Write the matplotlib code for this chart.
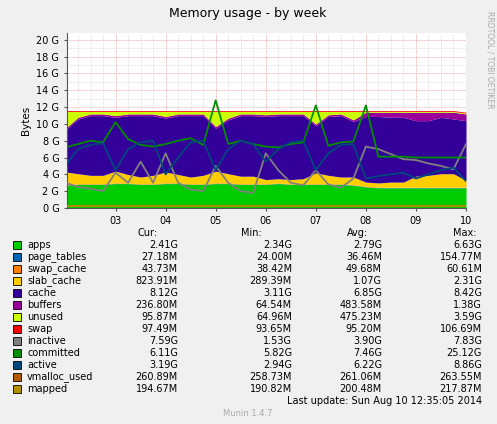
import matplotlib
matplotlib.use("Agg")
import matplotlib.pyplot as plt
import numpy as np

# time in days (Aug 02 .. Aug 10), quarter-day samples, values in GB
days = [2 + 0.25 * i for i in range(33)]
apps = [2.7, 2.8, 2.8, 2.8, 2.9, 2.9, 2.8, 2.8, 2.9, 2.9, 2.8, 2.8, 2.9, 2.9, 2.8, 2.8,
        2.8, 2.9, 2.8, 2.8, 2.8, 2.8, 2.8, 2.7, 2.5, 2.4, 2.4, 2.4, 2.4, 2.4, 2.4, 2.4, 2.4]
page_tables = [0.03] * 33
swap_cache = [0.05] * 33
slab_cache = [1.5, 1.2, 1.0, 1.0, 1.4, 1.0, 0.8, 1.0, 1.3, 1.0, 0.8, 1.0, 1.4, 1.1, 0.9, 0.9,
              0.5, 0.5, 0.5, 0.6, 1.3, 1.0, 0.8, 0.9, 0.5, 0.5, 0.6, 0.6, 1.3, 1.4, 1.6, 1.6, 0.8]
cache = [5.0, 6.5, 7.1, 7.1, 6.4, 7.0, 7.3, 7.1, 6.4, 7.0, 7.3, 7.1, 5.1, 6.4, 7.2, 7.2,
         7.5, 7.5, 7.6, 7.5, 5.6, 7.0, 7.3, 6.6, 7.8, 7.9, 7.7, 7.7, 6.6, 6.5, 6.7, 6.5, 7.1]
buffers = [0.2] * 24 + [0.5, 0.5, 0.6, 0.6, 1.0, 1.0, 0.6, 0.8, 0.8]
unused = [2.0, 0.7, 0.3, 0.3, 0.5, 0.3, 0.3, 0.3, 0.6, 0.3, 0.3, 0.3, 1.8, 0.8, 0.3, 0.3,
          0.4, 0.3, 0.3, 0.3, 1.5, 0.4, 0.3, 1.0, 0.1, 0.1, 0.1, 0.1, 0.1, 0.1, 0.1, 0.1, 0.1]
swap = [0.1] * 33
inactive = [3.0, 2.5, 2.3, 2.0, 4.2, 3.0, 5.5, 3.0, 6.5, 3.0, 2.2, 2.0, 5.0, 3.0, 2.0, 1.8,
            6.5, 4.5, 3.0, 2.7, 4.5, 2.8, 2.4, 3.5, 7.3, 7.0, 6.4, 5.8, 5.7, 5.3, 5.0, 4.6, 7.6]
committed = [7.2, 7.6, 8.0, 7.8, 10.2, 8.2, 7.5, 7.3, 7.6, 8.0, 8.3, 7.5, 12.8, 7.6, 8.0, 7.6,
             7.3, 7.2, 7.6, 7.8, 12.2, 7.4, 7.8, 7.9, 12.2, 6.1, 6.1, 6.1, 6.0, 6.0, 6.0, 6.0, 6.0]
active = [5.0, 7.0, 7.5, 7.7, 4.5, 7.0, 7.8, 8.0, 4.0, 6.0, 7.8, 8.0, 4.5, 7.0, 8.0, 7.6,
          5.5, 7.0, 7.8, 8.0, 4.5, 6.5, 7.5, 7.6, 3.5, 3.8, 4.0, 4.2, 3.5, 4.0, 4.5, 4.8, 3.2]
vmalloc_used = [0.26] * 33
mapped = [0.2] * 33

names = ["apps", "page_tables", "swap_cache", "slab_cache", "cache", "buffers", "unused",
         "swap", "inactive", "committed", "active", "vmalloc_used", "mapped"]
colors = ["#00CC00", "#0066B3", "#FF8000", "#FFCC00", "#330099", "#990099", "#CCFF00",
          "#FF0000", "#808080", "#008F00", "#00487D", "#B35A00", "#B38F00"]
cur = ["2.41G", "27.18M", "43.73M", "823.91M", "8.12G", "236.80M", "95.87M", "97.49M",
       "7.59G", "6.11G", "3.19G", "260.89M", "194.67M"]
mins = ["2.34G", "24.00M", "38.42M", "289.39M", "3.11G", "64.54M", "64.96M", "93.65M",
        "1.53G", "5.82G", "2.94G", "258.73M", "190.82M"]
avgs = ["2.79G", "36.46M", "49.68M", "1.07G", "6.85G", "483.58M", "475.23M", "95.20M",
        "3.90G", "7.46G", "6.22G", "261.06M", "200.48M"]
maxs = ["6.63G", "154.77M", "60.61M", "2.31G", "8.42G", "1.38G", "3.59G", "106.69M",
        "7.83G", "25.12G", "8.86G", "263.55M", "217.87M"]

W, H = 497, 424
fig = plt.figure(figsize=(W / 100, H / 100), dpi=100, facecolor="#F0F0F0")
ax = fig.add_axes([67 / W, 1 - 208 / H, (466 - 67) / W, (208 - 33) / H])
ax.set_facecolor("white")

stack = [apps, page_tables, swap_cache, slab_cache, cache, buffers, unused, swap]
base = np.zeros(len(days))
for vals, c in zip(stack, colors[:8]):
    top = base + np.array(vals)
    ax.fill_between(days, base, top, color=c, lw=0, zorder=2)
    base = top
for vals, c in zip([inactive, committed, active, vmalloc_used, mapped], colors[8:]):
    ax.plot(days, vals, color=c, lw=1.3, zorder=3)

ax.set_xlim(2.03, 10.0)
ax.set_ylim(0, 20.8)
ax.set_xticks(range(3, 11))
ax.set_xticklabels(["03", "04", "05", "06", "07", "08", "09", "10"])
ax.set_xticks(np.arange(2.25, 10, 0.25), minor=True)
ax.set_yticks(range(0, 21, 2))
ax.set_yticklabels([f"{v} G" for v in range(0, 21, 2)])
ax.set_yticks(range(1, 21, 2), minor=True)
ax.grid(which="minor", color="#DDDDDD", ls=(0, (1, 1)), lw=0.6, zorder=1)
ax.grid(which="major", color="#F0A0A0", ls=(0, (1, 1)), lw=0.6, zorder=1)
ax.set_axisbelow(True)
for s in ["top", "right"]:
    ax.spines[s].set_visible(False)
for s in ["left", "bottom"]:
    ax.spines[s].set_color("#555555")
ax.tick_params(labelsize=7, length=2, colors="#555555", labelcolor="black")
ax.tick_params(which="minor", length=0)
ax.set_ylabel("Bytes", fontsize=7.5)

fig.text(248 / W, 1 - 13 / H, "Memory usage - by week", ha="center", va="center", fontsize=9)
fig.text(490 / W, 1 - 60 / H, "RRDTOOL / TOBI OETIKER", rotation=270, ha="center", va="center",
         fontsize=5.5, color="#AAAAAA")

fs = 7
ty = lambda y: 1 - y / H
for label, x in [("Cur:", 158), ("Min:", 262), ("Avg:", 368), ("Max:", 476)]:
    fig.text(x / W, ty(233), label, ha="right", va="center", fontsize=fs)
for i, n in enumerate(names):
    y = 245 + 12 * i
    fig.patches.append(plt.Rectangle((13 / W, ty(y + 4)), 8 / W, 8 / H, transform=fig.transFigure,
                                     facecolor=colors[i], edgecolor="black", lw=0.6))
    fig.text(27 / W, ty(y), n, va="center", fontsize=fs)
    for vals, x in [(cur, 178), (mins, 292), (avgs, 382), (maxs, 482)]:
        fig.text(x / W, ty(y), vals[i], ha="right", va="center", fontsize=fs)
fig.text(482 / W, ty(401), "Last update: Sun Aug 10 12:35:05 2014", ha="right", va="center", fontsize=fs)
fig.text(248 / W, ty(414), "Munin 1.4.7", ha="center", va="center", fontsize=6, color="#AAAAAA")

fig.savefig("out.png", dpi=100, facecolor=fig.get_facecolor())
